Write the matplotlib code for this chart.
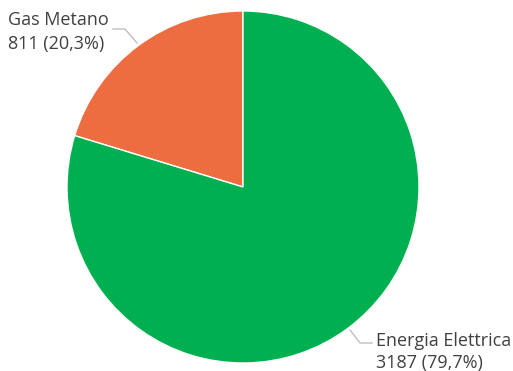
import matplotlib
matplotlib.use("Agg")
import matplotlib.pyplot as plt

categories = ["Gas Metano", "Energia Elettrica"]
values = [811, 3187]
colors = ["#ED6D41", "#00B050"]

W, H = 513, 371
fig = plt.figure(figsize=(W / 100, H / 100), dpi=100)
cx, cy, r = 243, 187, 176
ax = fig.add_axes([(cx - r) / W, (H - cy - r) / H, 2 * r / W, 2 * r / H])
ax.pie(values, colors=colors, startangle=90, counterclock=True,
       wedgeprops=dict(edgecolor="white", linewidth=1))
ax.set_xlim(-1, 1)
ax.set_ylim(-1, 1)
ax.set_aspect("equal")
ax.axis("off")

def d(px, py):
    return ((px - cx) / r, (cy - py) / r)

total = sum(values)
line2 = [f"{v} ({v / total * 100:.1f}%)".replace(".", ",") for v in values]

lc = "#BFBFBF"
# Gas Metano leader
xs, ys = zip(d(113, 29), d(125, 29), d(137, 43))
ax.plot(xs, ys, color=lc, lw=1, clip_on=False)
# Energia leader
xs, ys = zip(d(350, 330), d(360, 343), d(372, 343))
ax.plot(xs, ys, color=lc, lw=1, clip_on=False)

fp = dict(fontsize=13, color="#404040", family="Open Sans", ha="left", va="baseline")
ax.text(*d(8, 25), categories[0], **fp)
ax.text(*d(8, 49), line2[0], **fp)
ax.text(*d(376, 346), categories[1], **fp)
ax.text(*d(376, 368), line2[1], **fp)

fig.savefig("out.png", dpi=100)
